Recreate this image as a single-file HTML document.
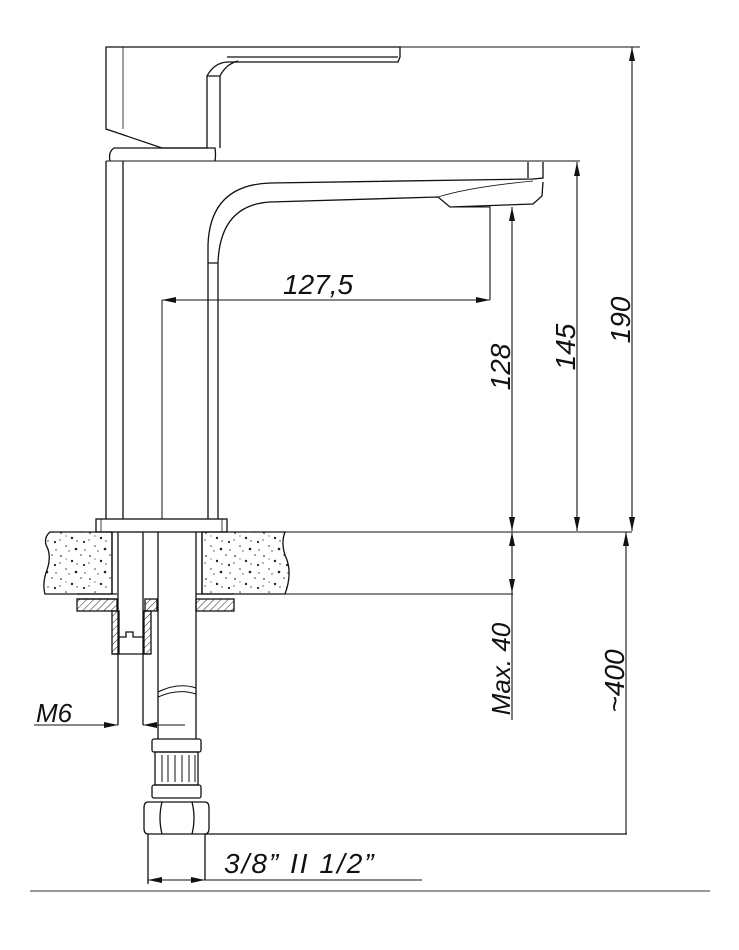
<!DOCTYPE html>
<html><head><meta charset="utf-8"><style>
html,body{margin:0;padding:0;background:#fff;}
svg{display:block}
text{font-family:"Liberation Sans",sans-serif;font-style:italic;fill:#111;}
</style></head><body>
<svg width="739" height="950" viewBox="0 0 739 950" xmlns="http://www.w3.org/2000/svg">
<defs>
<marker id="a" viewBox="0 0 14 6" refX="14" refY="3" markerWidth="14" markerHeight="6" markerUnits="userSpaceOnUse" orient="auto-start-reverse"><path d="M0,0 L14,3 L0,6 z" fill="#111"/></marker>
<pattern id="hatch" width="5" height="5" patternUnits="userSpaceOnUse" patternTransform="rotate(45)"><line x1="0" y1="0" x2="0" y2="5" stroke="#222" stroke-width="1"/></pattern>
<pattern id="stone" width="29" height="23" patternUnits="userSpaceOnUse">
<circle cx="3" cy="4" r="0.9" fill="#333"/><circle cx="14" cy="9" r="1.2" fill="#222"/><circle cx="23" cy="3" r="0.8" fill="#333"/><circle cx="26" cy="13" r="1.1" fill="#222"/><circle cx="8" cy="17" r="0.8" fill="#333"/><circle cx="18" cy="20" r="1.3" fill="#222"/><circle cx="27" cy="21" r="0.7" fill="#333"/><circle cx="19" cy="12" r="0.7" fill="#333"/><circle cx="2" cy="11" r="0.7" fill="#444"/><circle cx="11" cy="22" r="0.7" fill="#444"/><circle cx="8" cy="7" r="0.6" fill="#444"/>
</pattern>
</defs>
<g fill="none" stroke="#111" stroke-width="1.3">
<path d="M106,47 L400,47 L400,57 L398,62 L227,62 Q214,63 207,76 L207,148 L162,148 L106,129 Z"/>
<path d="M227,57 L398,57"/>
<path d="M123,47 L123,129" stroke-width="0.8"/>
<path d="M207,76 L220,76 L220,148 M220,76 Q226,64 238,61"/>
<path d="M110,161 Q108,152 114,148 L207,148 L215,148 Q216,155 215,161"/>
<path d="M106,161 L106,519 M123,161 L123,519"/>
<path d="M106,161 L580,161" stroke-width="1"/>
<path d="M208,263 L208,245 Q210,185 270,183 L533,179 L543,178 L543,162 M528,162 L528,178"/>
<path d="M218,263 Q220,205 270,202 L438,197 L450,207 L533,204 L542,196 L543,182"/>
<path d="M438,197 Q470,187 533,181" stroke-width="0.8"/>
<path d="M208,263 L208,519 M218,263 L218,519 M208,263 L218,263"/>
<path d="M162,300 L162,519" stroke-width="1"/>
<rect x="96" y="519" width="131" height="13"/>
<path d="M101,519 L101,532 M222,519 L222,532" stroke-width="0.8"/>
<path d="M50,532 L112,532 L112,594 L45,594 Q42,583 47,570 Q52,555 46,545 Q44,537 50,532 Z" fill="url(#stone)"/>
<path d="M202,532 L285,532 Q280,545 287,560 Q292,575 285,594 L202,594 Z" fill="url(#stone)"/>
<path d="M227,532 L632,532" stroke-width="1"/>
<path d="M285,594 L513,594" stroke-width="1"/>
<path d="M112,532 L112,594 M118,532 L118,725 M143,532 L143,725 M158,532 L158,739 M196,532 L196,739 M202,532 L202,594"/>
<rect x="77" y="599" width="40" height="12" fill="url(#hatch)"/>
<path d="M77,599 L117,599 M77,594 L117,594"/>
<rect x="145" y="599" width="12" height="12" fill="url(#hatch)"/>
<rect x="196" y="599" width="38" height="12" fill="url(#hatch)"/>
<path d="M196,594 L234,594"/>
<rect x="112" y="611" width="7" height="43" fill="url(#hatch)"/>
<rect x="144" y="611" width="7" height="43" fill="url(#hatch)"/>
<path d="M112,654 L151,654 M118,637 L126,637 L126,632 L133,632 L133,637 L143,637"/>
<path d="M158,692 Q178,682 196,688 M158,697 Q178,688 196,694" stroke-width="1"/>
<rect x="152" y="739" width="49" height="13" rx="2"/>
<rect x="155" y="752" width="43" height="33"/>
<path d="M162,755 L162,782 M168,755 L168,782 M175,755 L175,782 M182,755 L182,782 M189,755 L189,782 M195,755 L195,782" stroke-width="1"/>
<rect x="152" y="785" width="49" height="13" rx="2"/>
<path d="M148,802 L205,802 Q209,802 209,808 L209,828 Q209,834 205,834 L148,834 Q144,834 144,828 L144,808 Q144,802 148,802 Z"/>
<path d="M162,802 Q158,818 162,834 M192,802 Q196,818 192,834"/>
<path d="M148,834 L148,884 M205,834 L205,880 M205,834 L627,834"/>
</g>
<g fill="none" stroke="#111" stroke-width="1.1">
<path d="M162,300 L490,300" marker-start="url(#a)" marker-end="url(#a)"/>
<path d="M490,300 L490,207 L450,207"/>
<path d="M512,207 L512,531" marker-start="url(#a)" marker-end="url(#a)"/>
<path d="M577,162 L577,531" marker-start="url(#a)" marker-end="url(#a)"/>
<path d="M400,47 L640,47"/>
<path d="M632,47 L632,531" marker-start="url(#a)" marker-end="url(#a)"/>
<path d="M512,532 L512,593" marker-start="url(#a)" marker-end="url(#a)"/>
<path d="M512,593 L512,720"/>
<path d="M626,532 L626,834" marker-start="url(#a)"/>
<path d="M34,725 L118,725" marker-end="url(#a)"/>
<path d="M143,725 L185,725" marker-start="url(#a)"/>
<path d="M148,880 L205,880" marker-start="url(#a)" marker-end="url(#a)"/>
<path d="M205,880 L422,880"/>
</g>
<line x1="30" y1="891" x2="710" y2="891" stroke="#999" stroke-width="2"/>
<g font-size="28">
<text x="283" y="294">127,5</text>
<text transform="translate(510,367) rotate(-90)" text-anchor="middle">128</text>
<text transform="translate(575,347) rotate(-90)" text-anchor="middle">145</text>
<text transform="translate(630,320) rotate(-90)" text-anchor="middle">190</text>
<text transform="translate(510,669) rotate(-90)" text-anchor="middle" font-size="26">Max. 40</text>
<text transform="translate(624,681) rotate(-90)" text-anchor="middle">~400</text>
<text x="36" y="722" font-size="26">M6</text>
<text x="224" y="873" font-size="28" letter-spacing="2">3/8” II 1/2”</text>
</g>
</svg>
</body></html>
